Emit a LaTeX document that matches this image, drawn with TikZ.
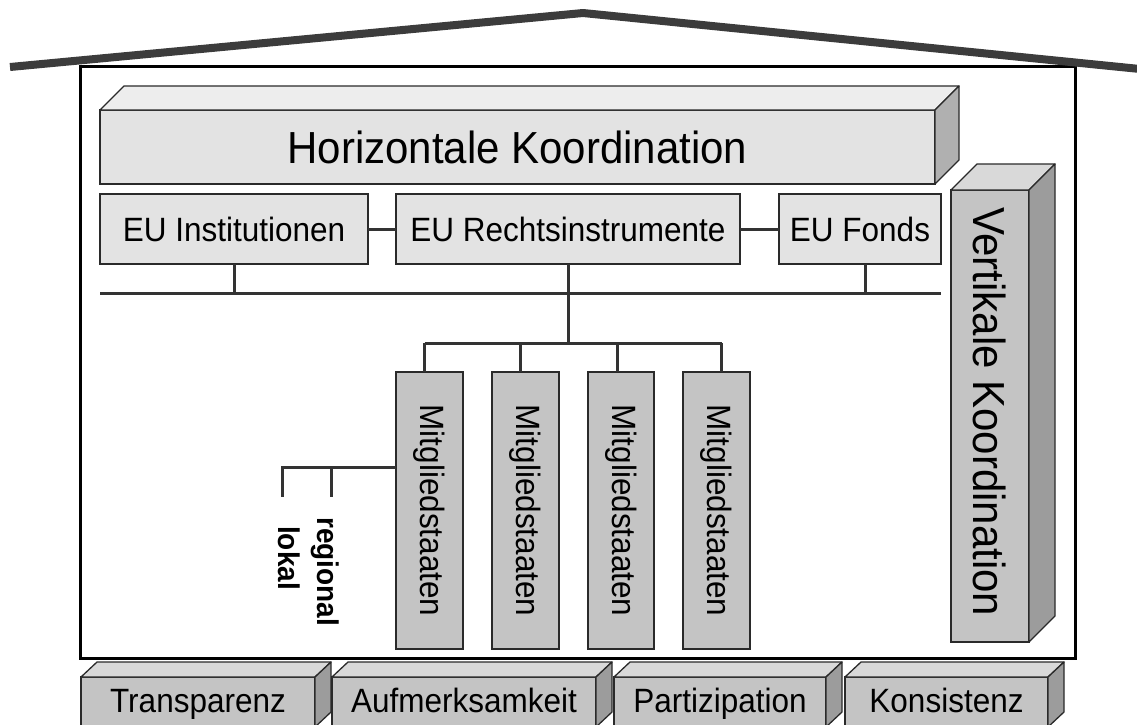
\documentclass[tikz,border=0pt]{standalone}
\usepackage{fontspec}
\usepackage{graphicx}
\setmainfont{Liberation Sans}
\newcommand\tallt[1]{\scalebox{1}[1.07]{#1}}
\definecolor{lc}{HTML}{333333}
\definecolor{bc}{HTML}{2A2A2A}
\definecolor{rooff}{HTML}{3C3C3C}
\definecolor{lightf}{HTML}{E3E3E3}
\definecolor{lighttop}{HTML}{EDEDED}
\definecolor{lightside}{HTML}{B0B0B0}
\definecolor{midf}{HTML}{C4C4C4}
\definecolor{midtop}{HTML}{D9D9D9}
\definecolor{midside}{HTML}{9C9C9C}
\begin{document}
\begin{tikzpicture}[x=1pt,y=-1pt,
  edge/.style={draw=lc, line width=3pt},
  box/.style={draw=bc, line width=1.3pt, inner sep=0pt, outer sep=0pt, anchor=north west},
  face/.style={draw=bc, line width=1.3pt, line join=round},
  big/.style={font=\fontsize{42}{48}\selectfont},
  lab/.style={font=\fontsize{31.5}{36}\selectfont},
  bold/.style={font=\fontsize{28}{32}\selectfont\bfseries},
]
\useasboundingbox (0,0) rectangle (1137,724);
\clip (0,0) rectangle (1137,724);

% house
\node[draw=black, line width=3pt, inner sep=0pt, outer sep=0pt, anchor=north west,
      minimum width=995, minimum height=592] (house) at (80,66) {};
% roof
\coordinate (rl) at (10,67);
\coordinate (rp) at (583,13);
\coordinate (rr) at (1140,69);
\draw[draw=rooff, line width=8pt, line join=round] (rl) -- (rp) -- (rr);

% Horizontale Koordination (3D bar)
\node[box, fill=lightf, minimum width=835, minimum height=74] (H) at (100,110) {};
\filldraw[face, fill=lighttop] (H.north west) -- ++(24,-24) -- ([shift={(24,-24)}]H.north east) -- (H.north east) -- cycle;
\filldraw[face, fill=lightside] (H.north east) -- ++(24,-24) -- ([shift={(24,-24)}]H.south east) -- (H.south east) -- cycle;
\node[big] (Ht) at (H.center) {\tallt{Horizontale Koordination}};

% EU boxes
\node[box, fill=lightf, minimum width=268, minimum height=70] (inst) at (100,194) {};
\node[lab] (instt) at (inst.center) {\tallt{EU Institutionen}};
\node[box, fill=lightf, minimum width=344, minimum height=70] (rechts) at (396,194) {};
\node[lab] (rechtst) at (rechts.center) {\tallt{EU Rechtsinstrumente}};
\node[box, fill=lightf, minimum width=162, minimum height=70] (fonds) at (779,194) {};
\node[lab] (fondst) at (fonds.center) {\tallt{EU Fonds}};

\draw[edge] (inst.east) -- (rechts.west);
\draw[edge] (rechts.east) -- (fonds.west);

% main bar
\coordinate (barL) at (100,293);
\coordinate (barR) at (941,293);
\draw[edge] (barL) -- (barR);
\draw[edge] (inst.south) -- (inst.south |- barL);
\draw[edge] ([xshift=5]fonds.south) -- ([xshift=5]fonds.south |- barL);

% Mitgliedstaaten
\node[box, fill=midf, minimum width=67, minimum height=277] (m1) at (396,372) {};
\node[box, fill=midf, minimum width=67, minimum height=277] (m2) at (492,372) {};
\node[box, fill=midf, minimum width=66, minimum height=277] (m3) at (588,372) {};
\node[box, fill=midf, minimum width=67, minimum height=277] (m4) at (683,372) {};
\node[lab, rotate=-90] (m1t) at (m1.center) {\tallt{Mitgliedstaaten}};
\node[lab, rotate=-90] (m2t) at (m2.center) {\tallt{Mitgliedstaaten}};
\node[lab, rotate=-90] (m3t) at (m3.center) {\tallt{Mitgliedstaaten}};
\node[lab, rotate=-90] (m4t) at (m4.center) {\tallt{Mitgliedstaaten}};

\coordinate (br) at (568,343);
\draw[edge] (rechts.south) -- (br);
\draw[edge] ([xshift=-5]m1.north |- br) -- ([xshift=5]m4.north |- br);
\draw[edge] ([xshift=-5]m1.north |- br) -- ([xshift=-5]m1.north);
\draw[edge] ([xshift=-5]m2.north |- br) -- ([xshift=-5]m2.north);
\draw[edge] ([xshift=-4]m3.north |- br) -- ([xshift=-4]m3.north);
\draw[edge] ([xshift=5]m4.north |- br) -- ([xshift=5]m4.north);

% regional / lokal
\coordinate (mj) at (m1.west |- 0,467);
\coordinate (lokc) at (282,467);
\coordinate (lokE) at (282,497);
\coordinate (regc) at (331,467);
\coordinate (regE) at (331,497);
\draw[edge] (mj) -- (lokc) -- (lokE);
\draw[edge] (regc) -- (regE);
\node[bold, rotate=-90, anchor=west, inner sep=0pt] (reg) at (325,517) {\tallt{regional}};
\node[bold, rotate=-90, anchor=west, inner sep=0pt] (lok) at (289,526) {\tallt{lokal}};

% Vertikale Koordination (3D column)
\node[box, fill=midf, minimum width=78, minimum height=452] (V) at (951,190) {};
\filldraw[face, fill=midtop] (V.north west) -- ++(26,-26) -- ([shift={(26,-26)}]V.north east) -- (V.north east) -- cycle;
\filldraw[face, fill=midside] (V.north east) -- ++(26,-26) -- ([shift={(26,-26)}]V.south east) -- (V.south east) -- cycle;
\node[big, rotate=-90] (Vt) at ([yshift=4]V.center) {\tallt{Vertikale Koordination}};

% bottom pillars
\foreach \n/\x/\w/\t in {t/81/234/Transparenz, a/332/264/Aufmerksamkeit, p/614/212/Partizipation, k/845/203/Konsistenz}{
  \node[box, fill=midf, minimum width=\w, minimum height=50] (\n) at (\x,677) {};
  \filldraw[face, fill=midtop] (\n.north west) -- ++(16,-15) -- ([shift={(16,-15)}]\n.north east) -- (\n.north east) -- cycle;
  \filldraw[face, fill=midside] (\n.north east) -- ++(16,-15) -- ([shift={(16,-15)}]\n.south east) -- (\n.south east) -- cycle;
  \node[lab, anchor=base] (\n t) at (\n.north |- 0,712) {\tallt{\t}};
}
\end{tikzpicture}
\end{document}
